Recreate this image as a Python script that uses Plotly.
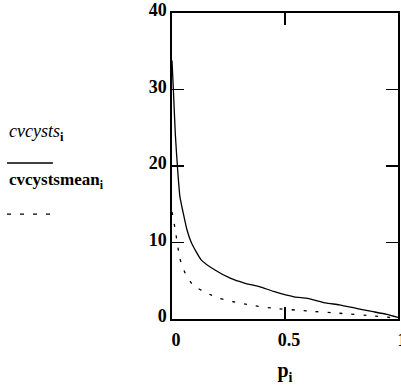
import plotly.graph_objects as go

# Data
p_solid = [0, 0.006, 0.015, 0.025, 0.035, 0.05, 0.065, 0.087, 0.13, 0.19, 0.26,
           0.32, 0.39, 0.45, 0.54, 0.6, 0.68, 0.74, 0.83, 0.89, 0.95, 1.0]
cvcysts = [33.8, 30, 24, 19.5, 16, 13.8, 11.8, 9.9, 7.7, 6.4, 5.3,
           4.7, 4.2, 3.6, 2.9, 2.7, 2.1, 1.85, 1.3, 0.96, 0.6, 0.2]

p_dash = [0, 0.013, 0.035, 0.058, 0.094, 0.153, 0.21, 0.28, 0.345, 0.45,
          0.6, 0.74, 0.89, 1.0]
cvcystsmean = [14, 11.9, 7.9, 6.0, 4.4, 3.4, 2.7, 2.2, 1.83, 1.4,
               1.05, 0.75, 0.4, 0.1]

x_ticks = [0, 0.5, 1]
x_ticklabels = ["0", "0.5", "1"]
y_ticks = [0, 10, 20, 30, 40]
y_ticklabels = ["0", "10", "20", "30", "40"]

FONT = "Liberation Serif"

fig = go.Figure()
fig.add_trace(go.Scatter(x=p_solid, y=cvcysts, mode="lines",
                         line=dict(color="black", width=1.3, shape="spline",
                                   smoothing=0.5),
                         showlegend=False, hoverinfo="skip"))
fig.add_trace(go.Scatter(x=p_dash, y=cvcystsmean, mode="lines",
                         line=dict(color="black", width=1.3, dash="3px,9px",
                                   shape="spline", smoothing=0.5),
                         showlegend=False, hoverinfo="skip"))

axis_common = dict(showgrid=False, zeroline=False, showline=True,
                   linecolor="black", linewidth=1.6, mirror="ticks",
                   ticks="inside", ticklen=12, tickwidth=1.4, tickcolor="black",
                   automargin=False, ticklabeloverflow="allow",
                   tickfont=dict(family=FONT, size=18, color="black"))

fig.update_xaxes(range=[0, 1], tickvals=x_ticks,
                 ticktext=["<b>%s</b>" % t for t in x_ticklabels],
                 ticklabelshift=4, ticklabelstandoff=4,
                 title=dict(text="<b>p</b><sub><b>i</b></sub>",
                            font=dict(family=FONT, size=20, color="black"),
                            standoff=14),
                 **axis_common)
fig.update_yaxes(range=[0, 40], tickvals=y_ticks,
                 ticktext=["<b>%s</b>" % t for t in y_ticklabels],
                 ticklabelshift=-3,
                 **axis_common)

# Left-side legend (text above line samples)
fig.add_annotation(xref="paper", yref="paper", x=-0.73, y=0.608,
                   xanchor="left", yanchor="middle", showarrow=False,
                   text="<i>cvcysts</i><sub><b>i</b></sub>",
                   font=dict(family=FONT, size=18, color="black"))
fig.add_shape(type="line", xref="paper", yref="paper",
              x0=-0.73, x1=-0.527, y0=0.51, y1=0.51,
              line=dict(color="black", width=1.5))
fig.add_annotation(xref="paper", yref="paper", x=-0.73, y=0.45,
                   xanchor="left", yanchor="middle", showarrow=False,
                   text="<b>cvcystsmean</b><sub><b>i</b></sub>",
                   font=dict(family=FONT, size=17, color="black"))
fig.add_shape(type="line", xref="paper", yref="paper",
              x0=-0.73, x1=-0.52, y0=0.343, y1=0.343,
              line=dict(color="black", width=1.3, dash="4px,9px"))

fig.update_layout(width=401, height=387,
                  margin=dict(l=172, r=3, t=13, b=68),
                  paper_bgcolor="white", plot_bgcolor="white",
                  font=dict(family=FONT, color="black"))

fig.write_html("out.html",
               config={"displayModeBar": False, "staticPlot": True},
               post_script="document.body.style.margin='0';"
                           "document.body.style.overflow='hidden';")
